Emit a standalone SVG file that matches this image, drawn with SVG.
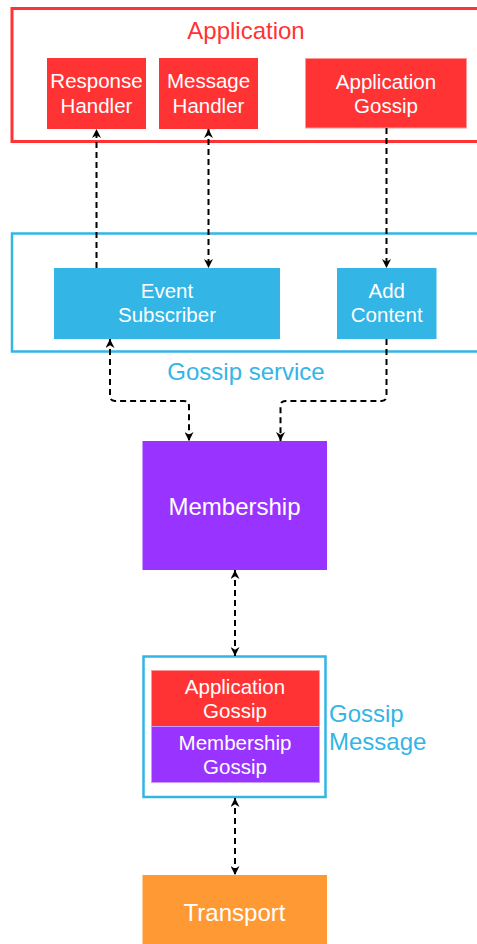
<svg xmlns="http://www.w3.org/2000/svg" width="477" height="944" viewBox="0 0 477 944">
  <style>
    .lbl { font-family: "Liberation Sans", Arial, sans-serif; fill: #ffffff; text-anchor: middle; }
    .n { font-size: 20.5px; }
    .big { font-size: 24px; }
    .title { font-family: "Liberation Sans", Arial, sans-serif; font-size: 24px; }
    .red { fill: #FF3333; }
    .blue { fill: #33B5E5; }
    .purple { fill: #9933FF; }
    .orange { fill: #FF9933; }
    .edge { fill: none; stroke: #000000; stroke-width: 2; stroke-dasharray: 6 4; }
  </style>
  <defs>
    <marker id="arrow" viewBox="0 0 10 10" refX="10" refY="5" markerUnits="userSpaceOnUse" markerWidth="9" markerHeight="9" orient="auto-start-reverse">
      <path d="M0,0 L10,5 L0,10 L3,5 z" fill="#000000"/>
    </marker>
  </defs>

  <rect width="477" height="944" fill="#ffffff"/>

  <!-- Application container -->
  <g id="application">
    <rect x="12" y="8.5" width="480" height="133" fill="none" stroke="#FF3333" stroke-width="3"/>
    <text class="title" x="246" y="39" text-anchor="middle" fill="#FF3333">Application</text>
  </g>

  <g id="response-handler">
    <rect class="red" x="47" y="58" width="99" height="71"/>
    <text class="lbl n" x="96.5" y="88">Response</text>
    <text class="lbl n" x="96.5" y="112.7">Handler</text>
  </g>

  <g id="message-handler">
    <rect class="red" x="159" y="58" width="99" height="71"/>
    <text class="lbl n" x="208.5" y="88">Message</text>
    <text class="lbl n" x="208.5" y="112.7">Handler</text>
  </g>

  <g id="application-gossip">
    <rect class="red" x="305.5" y="58.5" width="161" height="69.5" stroke="#FF9999" stroke-width="1"/>
    <text class="lbl n" x="386" y="88.5">Application</text>
    <text class="lbl n" x="386" y="112.5">Gossip</text>
  </g>

  <!-- Gossip service container -->
  <g id="gossip-service">
    <rect x="12" y="233.5" width="480" height="118" fill="none" stroke="#33B5E5" stroke-width="2.5"/>
    <text class="title" x="246" y="380" text-anchor="middle" fill="#33B5E5">Gossip service</text>
  </g>

  <g id="event-subscriber">
    <rect class="blue" x="54" y="268" width="226" height="71"/>
    <text class="lbl n" x="167" y="297.7">Event</text>
    <text class="lbl n" x="167" y="322.3">Subscriber</text>
  </g>

  <g id="add-content">
    <rect class="blue" x="337" y="268" width="99.5" height="71"/>
    <text class="lbl n" x="386.7" y="297.7">Add</text>
    <text class="lbl n" x="386.7" y="322.3">Content</text>
  </g>

  <g id="membership">
    <rect class="purple" x="142.5" y="441" width="184.5" height="129"/>
    <text class="lbl big" x="234.5" y="515">Membership</text>
  </g>

  <!-- Gossip message container -->
  <g id="gossip-message">
    <rect x="143.5" y="656.5" width="182" height="140.5" fill="none" stroke="#33B5E5" stroke-width="2.5"/>
    <text class="title" x="329" y="721.7" fill="#33B5E5">Gossip</text>
    <text class="title" x="329" y="750" fill="#33B5E5">Message</text>
  </g>

  <g id="gossip-application-part">
    <rect class="red" x="151.5" y="670.5" width="168" height="56" stroke="#FF9999" stroke-width="1"/>
    <text class="lbl n" x="235" y="693.5">Application</text>
    <text class="lbl n" x="235" y="718">Gossip</text>
  </g>

  <g id="gossip-membership-part">
    <rect class="purple" x="151.5" y="726.5" width="168" height="56" stroke="#CC99FF" stroke-width="1"/>
    <text class="lbl n" x="235" y="750">Membership</text>
    <text class="lbl n" x="235" y="774">Gossip</text>
  </g>

  <g id="transport">
    <rect class="orange" x="142.5" y="875" width="184.5" height="75"/>
    <text class="lbl big" x="234.5" y="921">Transport</text>
  </g>

  <!-- Connectors -->
  <g id="connectors">
    <path class="edge" d="M96.5,268 V129" marker-end="url(#arrow)"/>
    <path class="edge" d="M208.5,129 V268" marker-start="url(#arrow)" marker-end="url(#arrow)"/>
    <path class="edge" d="M386.5,128 V268" marker-end="url(#arrow)"/>
    <path class="edge" d="M110,339 V396 Q110,401 115,401 H184 Q189,401 189,406 V441" marker-start="url(#arrow)" marker-end="url(#arrow)"/>
    <path class="edge" d="M386.5,339 V396 Q386.5,401 381.5,401 H285.5 Q280.5,401 280.5,406 V441" marker-end="url(#arrow)"/>
    <path class="edge" d="M235,570 V656" marker-start="url(#arrow)" marker-end="url(#arrow)"/>
    <path class="edge" d="M235,798 V875" marker-start="url(#arrow)" marker-end="url(#arrow)"/>
  </g>
</svg>
